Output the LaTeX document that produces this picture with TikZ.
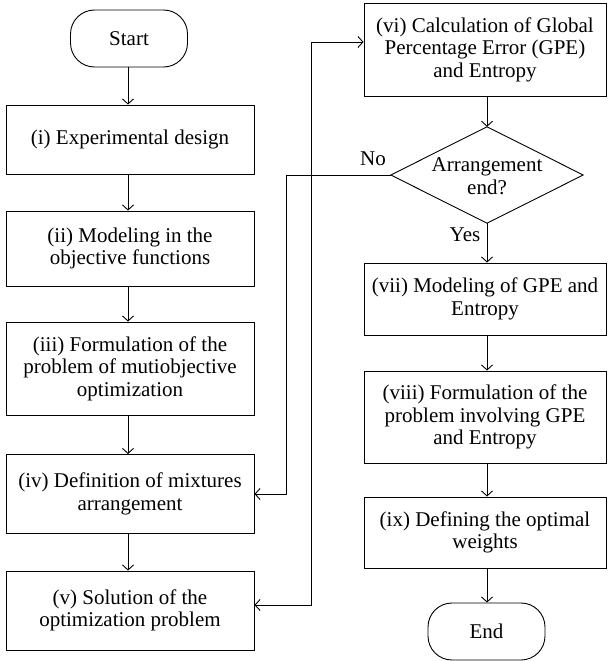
\documentclass[tikz,border=0pt]{standalone}
\usepackage{fontspec}
\setmainfont{Liberation Serif}
\usetikzlibrary{arrows.meta,calc}
\begin{document}
\begin{tikzpicture}[x=1pt,y=-1pt,
  every node/.style={font=\fontsize{21}{22.5}\selectfont},
  box/.style={draw, line width=0.9pt, rectangle, align=center, inner sep=2pt},
  lbox/.style={box, minimum width=248pt},
  rbox/.style={box, minimum width=242pt},
  term/.style={draw, line width=0.9pt, rectangle, rounded corners=24pt, minimum width=117pt, minimum height=57pt},
  arr/.style={line width=0.9pt, -{Straight Barb[length=5pt,width=11pt]}},
  darr/.style={line width=0.9pt, {Straight Barb[length=5pt,width=11pt]}-{Straight Barb[length=5pt,width=11pt]}},
  lbl/.style={inner sep=0pt}
]
\useasboundingbox (0,0) rectangle (608,661);
% left column
\node[term] (start) at (129,38.5) {Start};
\node[lbox, minimum height=69pt] (s1) at (130,139.5) {(i) Experimental design};
\node[lbox, minimum height=75pt] (s2) at (130,248.5) {(ii) Modeling in the\\objective functions};
\node[lbox, minimum height=93pt] (s3) at (130,368.5) {(iii) Formulation of the\\problem of mutiobjective\\optimization};
\node[lbox, minimum height=79pt] (s4) at (130,494) {(iv) Definition of mixtures\\arrangement};
\node[lbox, minimum height=79pt] (s5) at (130,610.5) {(v) Solution of the\\optimization problem};
% right column
\node[rbox, minimum height=93pt] (s6) at (485,49.5) {(vi) Calculation of Global\\Percentage Error (GPE)\\and Entropy};
\node[inner sep=0pt, minimum width=192pt, minimum height=96pt] (dec) at (487,175) {};
\draw[line width=0.9pt] (dec.north) -- (dec.east) -- (dec.south) -- (dec.west) -- cycle;
\node[align=center, inner sep=0pt] (dectext) at (487,176) {Arrangement\\end?};
\node[rbox, minimum height=72pt] (s7) at (485,299) {(vii) Modeling of GPE and\\Entropy};
\node[rbox, minimum height=92pt] (s8) at (485,417) {(viii) Formulation of the\\problem involving GPE\\and Entropy};
\node[rbox, minimum height=71pt] (s9) at (485,532.5) {(ix) Defining the optimal\\weights};
\node[term] (end) at (486.5,631.5) {End};
% connectors
\draw[arr] (start.south -| 128,0) -- (s1.north -| 128,0);
\draw[arr] (s1.south -| 128,0) -- (s2.north -| 128,0);
\draw[arr] (s2.south -| 128,0) -- (s3.north -| 128,0);
\draw[arr] (s3.south -| 128,0) -- (s4.north -| 128,0);
\draw[arr] (s4.south -| 128,0) -- (s5.north -| 128,0);
\draw[arr] (s6.south -| dec.north) -- (dec.north);
\draw[arr] (dec.south) -- (s7.north -| dec.south);
\draw[arr] (s7.south -| dec.south) -- (s8.north -| dec.south);
\draw[arr] (s8.south -| dec.south) -- (s9.north -| dec.south);
\draw[arr] (s9.south -| dec.south) -- (end.north -| dec.south);
\coordinate (noturn) at (286,175);
\draw[arr] (dec.west) -- (noturn) |- (s4.east);
\coordinate (loopbot) at (311,605);
\coordinate (looptop) at (311,42);
\draw[darr] (s5.east |- loopbot) -- (loopbot) -- (looptop) -- (s6.west |- looptop);
\node[lbl] (no) at (373,159) {No};
\node[lbl] (yes) at (465,235) {Yes};
\end{tikzpicture}
\end{document}
